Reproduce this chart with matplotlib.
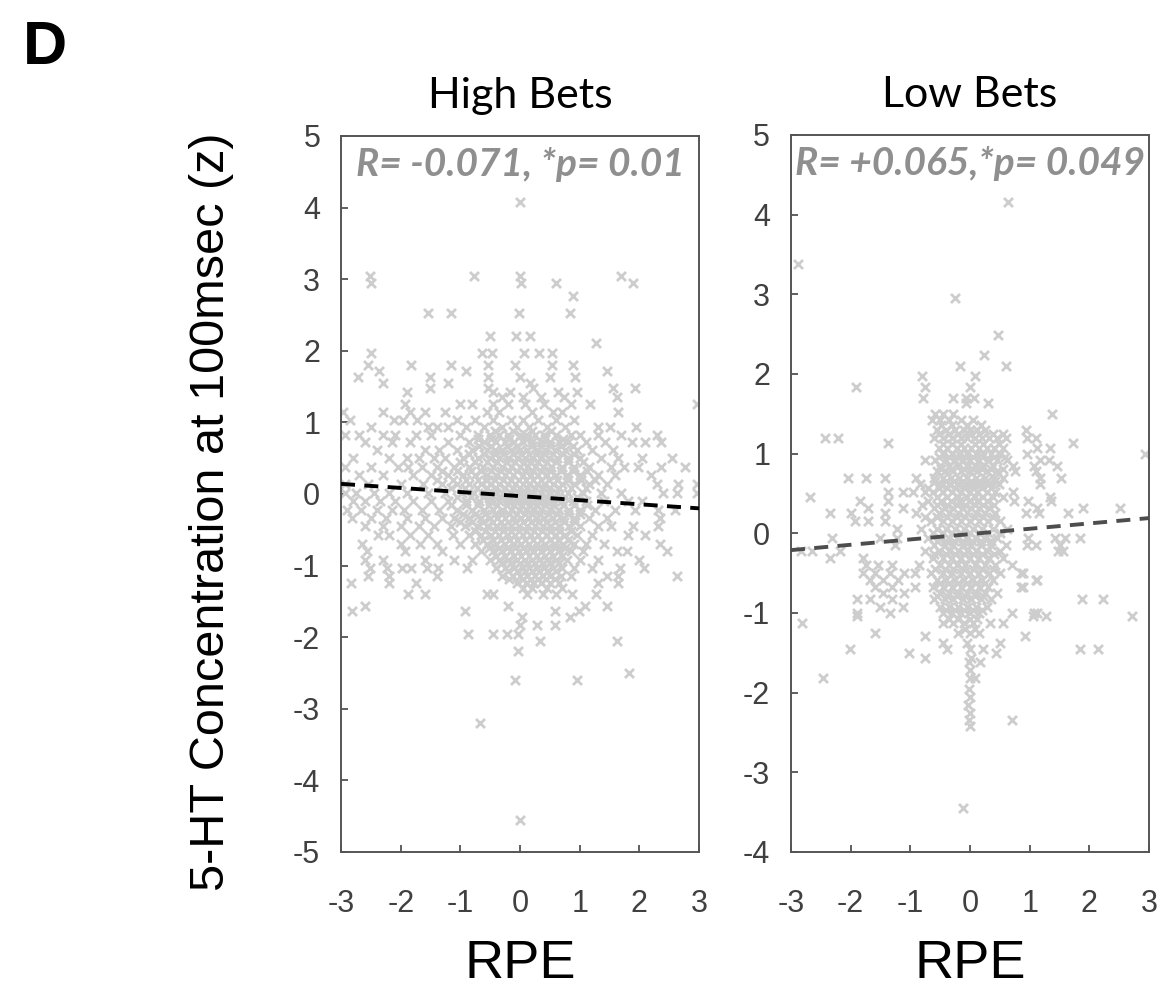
import matplotlib
matplotlib.use("Agg")
import matplotlib.pyplot as plt
import numpy as np

plt.rcParams["axes.unicode_minus"] = False

# High Bets: rows of points, (5-HT z value, [RPE values])
hb_rows = [
    (4.08, [0.0]),
    (3.05, [-2.51, -0.78, 0.0, 1.70]),
    (2.95, [-2.49, 0.02, 0.6, 1.90]),
    (2.77, [0.88]),
    (2.53, [-1.55, -1.15, -0.01, 0.83]),
    (2.2, [-0.50, -0.06, 0.17]),
    (2.11, [1.27]),
    (1.97, [-2.49, -0.63, -0.47, 0.06, 0.31, 0.53]),
    (1.8, [-2.54, -1.82, -1.15, -0.53, -0.08, 0.53, 0.89]),
    (1.72, [-2.37, -0.9, 1.45]),
    (1.64, [-2.71, -1.51, -0.53, 0.0, 0.5, 0.92]),
    (1.55, [-2.29, -1.2, 0.17]),
    (1.48, [-1.51, -0.53, 0.22, 1.56, 1.93]),
    (1.42, [-1.9, -0.45, -0.17, 0.64, 0.95]),
    (1.35, [-0.3, 0.05, 0.35, 0.73, 1.62]),
    (1.25, [-1.93, -1.0, -0.8, -0.45, -0.2, 0.08, 0.41, 0.86, 1.17, 2.96]),
    (1.15, [-2.96, -2.3, -1.84, -1.6, -1.26, -0.56, -0.35, 0.2, 0.55, 0.7, 1.64]),
    (1.03, [-2.85, -2.12, -1.96, -1.73, -1.05, -0.75, -0.45, -0.15, 0.05, 0.3, 0.6, 0.9]),
    (0.93, [-2.5, -1.55, -1.4, -1.2, -0.9, -0.6, -0.3, -0.05, 0.15, 0.45, 0.75, 1.3, 1.5, 1.95]),
    (0.83, [-2.94, -2.7, -2.3, -2.1, -1.75, -1.5, -1.0, -0.7, -0.5, -0.35, -0.2, 0.0, 0.1,
            0.25, 0.4, 0.6, 0.85, 1.0, 1.31, 1.7, 2.3]),
    (0.72, [-2.6, -2.15, -1.85, -1.2, -0.85, -0.6, -0.4, -0.25, -0.1, 0.05, 0.2, 0.35, 0.5,
            0.65, 0.8, 1.1, 1.42, 1.87, 2.09, 2.37]),
    (0.62, [-2.4, -1.6, -1.35, -1.05, -0.8, -0.55, -0.42, -0.3, -0.15, 0.0, 0.12, 0.28, 0.42,
            0.58, 0.75, 0.95, 1.2, 1.55]),
    (0.5, [-2.8, -2.2, -1.9, -1.7, -1.45, -1.25, -0.95, -0.7, -0.5, -0.35, -0.2, -0.05, 0.08,
           0.2, 0.33, 0.48, 0.62, 0.8, 1.0, 1.35, 1.65, 2.05, 2.55]),
    (0.38, [-2.94, -2.49, -2.04, -1.88, -1.65, -1.4, -1.1, -0.85, -0.62, -0.45, -0.3, -0.15,
            0.0, 0.12, 0.25, 0.38, 0.52, 0.7, 0.9, 1.15, 1.53, 1.75, 1.98, 2.37, 2.76]),
    (0.26, [-2.7, -2.3, -1.8, -1.5, -1.2, -0.95, -0.75, -0.55, -0.4, -0.25, -0.12, 0.05, 0.18,
            0.3, 0.45, 0.6, 0.78, 1.0, 1.3, 1.6, 2.2]),
    (0.14, [-2.94, -2.55, -2.0, -1.62, -1.3, -1.05, -0.85, -0.65, -0.5, -0.35, -0.2, -0.08,
            0.05, 0.15, 0.28, 0.4, 0.55, 0.7, 0.9, 1.15, 1.45, 2.3, 2.64, 2.96]),
    (0.02, [-2.94, -2.75, -2.45, -2.2, -1.9, -1.55, -1.25, -0.98, -0.78, -0.58, -0.42, -0.28,
            -0.15, -0.02, 0.1, 0.22, 0.35, 0.48, 0.62, 0.8, 1.05, 1.35, 1.7, 2.4, 2.63, 2.96]),
    (-0.1, [-2.8, -2.6, -2.35, -2.1, -1.8, -1.5, -1.2, -0.9, -0.68, -0.5, -0.35, -0.2, -0.08,
            0.05, 0.18, 0.3, 0.42, 0.55, 0.7, 0.88, 1.1, 1.4, 1.81, 2.05]),
    (-0.22, [-2.9, -2.66, -2.4, -2.15, -1.95, -1.65, -1.35, -1.05, -0.8, -0.6, -0.45, -0.3,
             -0.15, -0.02, 0.1, 0.22, 0.35, 0.5, 0.65, 0.82, 1.0, 1.25, 1.6, 1.92, 2.31, 2.6]),
    (-0.33, [-2.82, -2.5, -2.25, -1.9, -1.6, -1.3, -1.1, -0.85, -0.65, -0.5, -0.38, -0.25,
             -0.1, 0.02, 0.15, 0.28, 0.4, 0.55, 0.72, 0.9, 1.15, 1.45, 2.35]),
    (-0.45, [-2.6, -2.3, -2.0, -1.7, -1.45, -1.15, -0.92, -0.72, -0.55, -0.4, -0.28, -0.15,
             -0.02, 0.12, 0.25, 0.38, 0.5, 0.65, 0.82, 1.0, 1.3, 1.53, 1.9, 2.32]),
    (-0.58, [-2.38, -2.2, -1.85, -1.55, -1.12, -0.85, -0.65, -0.48, -0.35, -0.2, -0.08, 0.05,
             0.18, 0.3, 0.45, 0.6, 0.75, 0.95, 1.2, 1.81, 2.1]),
    (-0.7, [-2.65, -2.0, -1.68, -1.4, -1.0, -0.75, -0.55, -0.4, -0.25, -0.1, 0.02, 0.15, 0.28,
            0.42, 0.58, 0.72, 0.9, 1.1, 1.4, 2.35]),
    (-0.8, [-2.57, -1.93, -1.3, -0.65, -0.45, -0.3, -0.15, -0.02, 0.1, 0.22, 0.35, 0.5, 0.65,
            0.85, 1.05, 1.62, 1.79, 2.46]),
    (-0.92, [-2.6, -2.3, -1.6, -1.1, -0.8, -0.5, -0.35, -0.2, -0.05, 0.08, 0.2, 0.32, 0.45,
             0.6, 0.78, 1.0, 1.3, 2.0]),
    (-1.03, [-2.51, -2.23, -1.98, -1.82, -1.56, -1.37, -0.89, -0.4, -0.25, -0.1, 0.05, 0.15,
             0.28, 0.4, 0.55, 0.7, 0.9, 1.2, 1.68, 2.07]),
    (-1.14, [-2.55, -2.2, -1.4, -0.3, -0.12, 0.0, 0.12, 0.25, 0.38, 0.5, 0.68, 0.85, 1.45,
             1.65, 2.63]),
    (-1.25, [-2.83, -2.2, -1.75, -0.05, 0.1, 0.22, 0.35, 0.5, 0.65, 1.3, 1.65]),
    (-1.4, [-1.87, -1.59, -0.56, -0.45, 0.11, 0.39, 0.61, 0.87, 1.28]),
    (-1.57, [-2.6, -0.2, 1.09, 1.45]),
    (-1.64, [-2.82, -0.92, 0.59, 0.98]),
    (-1.72, [0.03, 0.84]),
    (-1.83, [0.0, 0.28, 0.59]),
    (-1.95, [-0.87, -0.45, -0.22, -0.03]),
    (-2.05, [0.34, 1.62]),
    (-2.2, [-0.03]),
    (-2.5, [1.82]),
    (-2.6, [-0.08, 0.95]),
    (-3.2, [-0.67]),
    (-4.55, [0.0]),
]

# extra points filling the dense central blob of the High Bets cloud
hb_core_rows = [
    (0.88, [-0.42, -0.12, 0.2, 0.52]),
    (0.77, [-0.7, -0.48, -0.18, 0.12, 0.42, 0.72]),
    (0.67, [-0.68, -0.48, -0.22, -0.05, 0.2, 0.35, 0.5, 0.68, 0.88]),
    (0.56, [-0.85, -0.6, -0.42, -0.28, -0.12, 0.02, 0.15, 0.28, 0.4, 0.55, 0.72, 0.9]),
    (0.44, [-1.0, -0.75, -0.55, -0.38, -0.22, -0.08, 0.06, 0.18, 0.3, 0.45, 0.6, 0.8, 1.05]),
    (0.32, [-1.3, -1.05, -0.82, -0.65, -0.48, -0.32, -0.18, -0.05, 0.08, 0.22, 0.35, 0.5,
            0.68, 0.88, 1.12]),
    (0.2, [-1.4, -1.12, -0.9, -0.7, -0.55, -0.42, -0.28, -0.15, -0.02, 0.1, 0.22, 0.35, 0.48,
           0.62, 0.8, 1.02, 1.25]),
    (0.08, [-1.15, -0.92, -0.72, -0.55, -0.4, -0.25, -0.12, 0.0, 0.12, 0.25, 0.38, 0.5,
            0.65, 0.85, 1.1]),
    (-0.04, [-1.05, -0.82, -0.62, -0.48, -0.32, -0.18, -0.05, 0.08, 0.2, 0.32, 0.45, 0.58,
             0.75, 0.95]),
    (-0.16, [-1.15, -0.9, -0.7, -0.52, -0.38, -0.22, -0.1, 0.04, 0.16, 0.28, 0.42, 0.56,
             0.72, 0.9, 1.12]),
    (-0.28, [-0.95, -0.75, -0.58, -0.42, -0.3, -0.18, -0.05, 0.08, 0.2, 0.34, 0.48, 0.62,
             0.8, 1.0]),
    (-0.39, [-1.0, -0.8, -0.62, -0.46, -0.32, -0.2, -0.08, 0.05, 0.18, 0.3, 0.44, 0.58, 0.74,
             0.92]),
    (-0.52, [-0.75, -0.58, -0.42, -0.28, -0.15, -0.02, 0.1, 0.24, 0.36, 0.5, 0.66, 0.85]),
    (-0.64, [-0.62, -0.46, -0.32, -0.18, -0.05, 0.08, 0.22, 0.35, 0.5, 0.64, 0.8]),
    (-0.75, [-0.52, -0.36, -0.22, -0.08, 0.05, 0.18, 0.3, 0.45, 0.58, 0.75]),
    (-0.86, [-0.4, -0.25, -0.1, 0.02, 0.15, 0.28, 0.42, 0.55, 0.7]),
    (-0.97, [-0.3, -0.15, 0.0, 0.12, 0.25, 0.38, 0.5, 0.65]),
    (-1.08, [-0.2, -0.05, 0.08, 0.2, 0.32, 0.45, 0.6]),
    (-1.19, [-0.18, 0.05, 0.18, 0.3, 0.44, 0.58]),
    (-1.32, [0.05, 0.2, 0.45, 0.7]),
]

# Low Bets
lb_rows = [
    (4.16, [0.63]),
    (3.38, [-2.88]),
    (2.95, [-0.25]),
    (2.49, [0.47]),
    (2.24, [0.24]),
    (2.1, [-0.17, 0.6]),
    (1.97, [-0.81, 0.08]),
    (1.84, [-1.91, -0.75, 0.0]),
    (1.7, [-0.78, -0.28, 0.06, -0.06]),
    (1.63, [0.31, -0.06]),
    (1.5, [-0.59, -0.45, -0.28, 1.37]),
    (1.42, [-0.64, -0.5, -0.35, -0.15, 0.05]),
    (1.3, [-0.55, -0.4, -0.25, -0.1, 0.0, 0.12, 0.25, 0.94]),
    (1.2, [-2.43, -2.21, -0.6, -0.45, -0.3, -0.15, -0.05, 0.08, 0.2, 0.32, 0.45, 0.6, 0.95, 1.11]),
    (1.13, [-1.37, 1.73]),
    (1.07, [-0.52, -0.38, -0.22, -0.1, 0.02, 0.15, 0.28, 0.4, 0.55, 1.12, 1.34]),
    (1.0, [-0.45, -0.3, -0.18, -0.05, 0.1, 0.22, 0.35, 0.5, 0.95, 2.93]),
    (0.92, [-0.75, -0.58, -0.4, -0.25, -0.12, 0.0, 0.15, 0.3, 0.45, 0.62, 1.17, 1.33]),
    (0.85, [-0.5, -0.35, -0.2, -0.05, 0.08, 0.22, 0.38, 0.72, 1.08, 1.45]),
    (0.78, [-0.55, -0.42, -0.28, -0.15, 0.0, 0.12, 0.28, 0.45, 0.75, 1.11]),
    (0.7, [-2.04, -1.74, -1.43, -0.9, -0.6, -0.45, -0.32, -0.18, -0.05, 0.1, 0.25, 0.4, 0.55,
           1.17, 1.53]),
    (0.62, [-0.84, -0.5, -0.35, -0.22, -0.08, 0.05, 0.18, 0.32, 0.48, 1.17]),
    (0.52, [-1.37, -1.12, -0.96, -0.76, -0.62, -0.45, -0.3, -0.15, 0.0, 0.12, 0.28, 0.42, 0.72]),
    (0.46, [-2.68, -0.55, -0.38, -0.2, -0.05, 0.08, 0.22, 0.38, 0.55, 1.34]),
    (0.4, [-1.85, -1.37, -0.7, -0.48, -0.32, -0.18, -0.02, 0.12, 0.28, 0.73, 0.97, 1.36]),
    (0.32, [-1.71, -1.12, -0.6, -0.42, -0.28, -0.12, 0.02, 0.15, 0.32, 1.12, 1.9, 2.51]),
    (0.25, [-2.35, -1.99, -1.43, -0.9, -0.52, -0.35, -0.2, -0.05, 0.1, 0.25, 0.42, 0.94, 1.15,
            1.64]),
    (0.15, [-1.93, -1.71, -1.43, -0.65, -0.45, -0.3, -0.15, 0.0, 0.15, 0.3, 0.5]),
    (0.05, [-1.23, -0.82, -0.55, -0.4, -0.25, -0.1, 0.05, 0.2, 0.38, 0.62]),
    (-0.06, [-2.32, -1.51, -1.23, -0.7, -0.5, -0.35, -0.2, -0.05, 0.1, 0.25, 0.45, 0.97, 1.42,
             1.59, 1.84]),
    (-0.15, [-1.26, -0.6, -0.42, -0.28, -0.12, 0.02, 0.18, 0.35, 0.6, 0.95, 1.11, 1.51]),
    (-0.22, [-2.83, -2.65, -2.18, -0.75, -0.52, -0.35, -0.2, -0.05, 0.1, 0.28, 0.5, 1.47, 1.56]),
    (-0.31, [-2.35, -1.8, -0.62, -0.45, -0.3, -0.15, 0.0, 0.15, 0.32, 0.55]),
    (-0.4, [-1.75, -1.55, -1.3, -0.85, -0.5, -0.35, -0.22, -0.08, 0.08, 0.25, 0.42, 0.7]),
    (-0.5, [-1.79, -1.6, -1.34, -1.1, -0.92, -0.65, -0.45, -0.3, -0.15, 0.0, 0.15, 0.32, 0.5,
            0.86, 0.89]),
    (-0.58, [-1.68, -1.45, -1.2, -0.55, -0.4, -0.25, -0.1, 0.05, 0.2, 0.38, 1.11, 1.12]),
    (-0.67, [-1.6, -1.3, -0.93, -0.62, -0.45, -0.3, -0.15, 0.0, 0.15, 0.3, 0.86, 0.89]),
    (-0.75, [-1.45, -1.1, -0.5, -0.35, -0.2, -0.05, 0.1, 0.25, 0.45]),
    (-0.83, [-1.9, -1.68, -1.3, -0.6, -0.42, -0.28, -0.12, 0.02, 0.18, 0.35, 1.87, 2.23]),
    (-0.92, [-1.51, -1.12, -0.5, -0.35, -0.2, -0.05, 0.1, 0.28]),
    (-1.0, [-1.9, -1.34, -0.45, -0.3, -0.15, 0.0, 0.15, 0.7, 1.08, 1.12]),
    (-1.04, [-1.9, 1.06, 1.28, 2.71]),
    (-1.13, [-2.82, -0.45, -0.28, -0.1, 0.05, 0.34, 0.56]),
    (-1.25, [-1.59, -0.2, 0.0, 0.15]),
    (-1.29, [-0.75, 0.92]),
    (-1.38, [-0.45, -0.05, 0.5]),
    (-1.45, [-2.01, -0.39, 0.0, 0.22, 1.84, 2.15]),
    (-1.5, [-1.03, 0.44]),
    (-1.57, [-0.75, 0.02]),
    (-1.61, [-0.02, 0.17]),
    (-1.72, [0.0]),
    (-1.82, [-2.46, 0.0, 0.08]),
    (-1.95, [-0.02]),
    (-2.05, [0.0]),
    (-2.15, [-0.03]),
    (-2.25, [0.0]),
    (-2.34, [-0.02, 0.70]),
    (-2.42, [0.0]),
    (-3.45, [-0.11]),
]

# extra points filling the dense central stripe of the Low Bets cloud
lb_core_rows = [
    (1.36, [-0.48, -0.3, -0.05, 0.18]),
    (1.25, [-0.52, -0.35, -0.2, -0.02, 0.15, 0.38, 0.55]),
    (1.12, [-0.45, -0.3, -0.15, 0.08, 0.22, 0.48]),
    (0.96, [-0.52, -0.36, -0.22, -0.08, 0.05, 0.2, 0.4, 0.58]),
    (0.81, [-0.48, -0.32, -0.1, 0.05, 0.2, 0.36, 0.55]),
    (0.66, [-0.58, -0.4, -0.26, -0.12, 0.02, 0.15, 0.28, 0.42]),
    (0.57, [-0.7, -0.52, -0.38, -0.25, -0.1, 0.05, 0.2, 0.35]),
    (0.36, [-0.8, -0.55, -0.38, -0.22, -0.08, 0.08, 0.22, 0.4]),
    (0.2, [-0.75, -0.55, -0.38, -0.22, -0.08, 0.08, 0.22, 0.38]),
    (0.0, [-0.62, -0.45, -0.3, -0.15, 0.0, 0.15, 0.3, 0.5]),
    (-0.1, [-0.55, -0.4, -0.26, -0.12, 0.04, 0.18, 0.35]),
    (-0.26, [-0.6, -0.4, -0.25, -0.1, 0.05, 0.2, 0.4]),
    (-0.45, [-0.58, -0.42, -0.28, -0.12, 0.05, 0.2, 0.38]),
    (-0.62, [-0.5, -0.35, -0.2, -0.05, 0.1, 0.25]),
    (-0.79, [-0.55, -0.38, -0.22, -0.08, 0.08, 0.22]),
    (-0.96, [-0.4, -0.25, -0.1, 0.05, 0.2]),
    (-1.07, [-0.35, -0.2, 0.0, 0.12]),
    (-1.2, [-0.08, 0.08]),
]

# regression lines (slope, intercept)
hb_fit = (-0.057, -0.03)
lb_fit = (0.067, -0.01)

panels = [
    ("High Bets", hb_rows + hb_core_rows, hb_fit, "R= -0.071, *p= 0.01", (-5, 5), "#000000"),
    ("Low Bets", lb_rows + lb_core_rows, lb_fit, "R= +0.065,*p= 0.049", (-4, 5), "#4d4d4d"),
]

fig = plt.figure(figsize=(11.66, 9.91), dpi=100)
ax_pos = [[0.2925, 0.1403, 0.307, 0.7225], [0.6784, 0.1403, 0.307, 0.7235]]

for k, (title, rows, fit, note, ylim, line_col) in enumerate(panels):
    ax = fig.add_axes(ax_pos[k])
    xs = [x for y, row in rows for x in row]
    ys = [y for y, row in rows for x in row]
    ax.scatter(xs, ys, marker="x", s=42, linewidths=2.0, color="#cdcdcd", zorder=2)

    xl = np.array([-3, 3])
    ax.plot(xl, fit[1] + fit[0] * xl, color=line_col, lw=2.8,
            linestyle=(0, (3.6, 2.4)), zorder=3)

    ax.set_xlim(-3, 3)
    ax.set_ylim(*ylim)
    ax.set_xticks(range(-3, 4))
    ax.set_yticks(range(ylim[0], ylim[1] + 1))
    ax.tick_params(direction="in", length=5, width=1.2, color="#444444",
                   labelsize=22, labelcolor="#404040", top=False, right=False)
    ax.tick_params(axis="x", pad=27)
    ax.tick_params(axis="y", pad=15)
    for lab in ax.get_xticklabels() + ax.get_yticklabels():
        lab.set_fontfamily("Liberation Sans")
    for sp in ax.spines.values():
        sp.set_color("#555555")
        sp.set_linewidth(1.4)

    ax.set_title(title, fontsize=31, family="Lato", pad=20)
    ax.set_xlabel("RPE", fontsize=39, family="Liberation Sans", labelpad=14)
    ax.text(0.5, 0.985, note, transform=ax.transAxes, ha="center", va="top",
            fontsize=28, family="Lato", fontweight="bold", style="italic",
            color="#8f8f8f", zorder=4)

    if k == 0:
        ax.set_ylabel("5-HT Concentration at 100msec (z)", fontsize=35,
                      family="Liberation Sans")
        ax.yaxis.set_label_coords(-0.30, 0.475)

fig.text(0.02, 0.98, "D", fontsize=44, fontweight="bold", family="Liberation Sans",
         va="top", ha="left")

fig.savefig("out.png", dpi=100)
